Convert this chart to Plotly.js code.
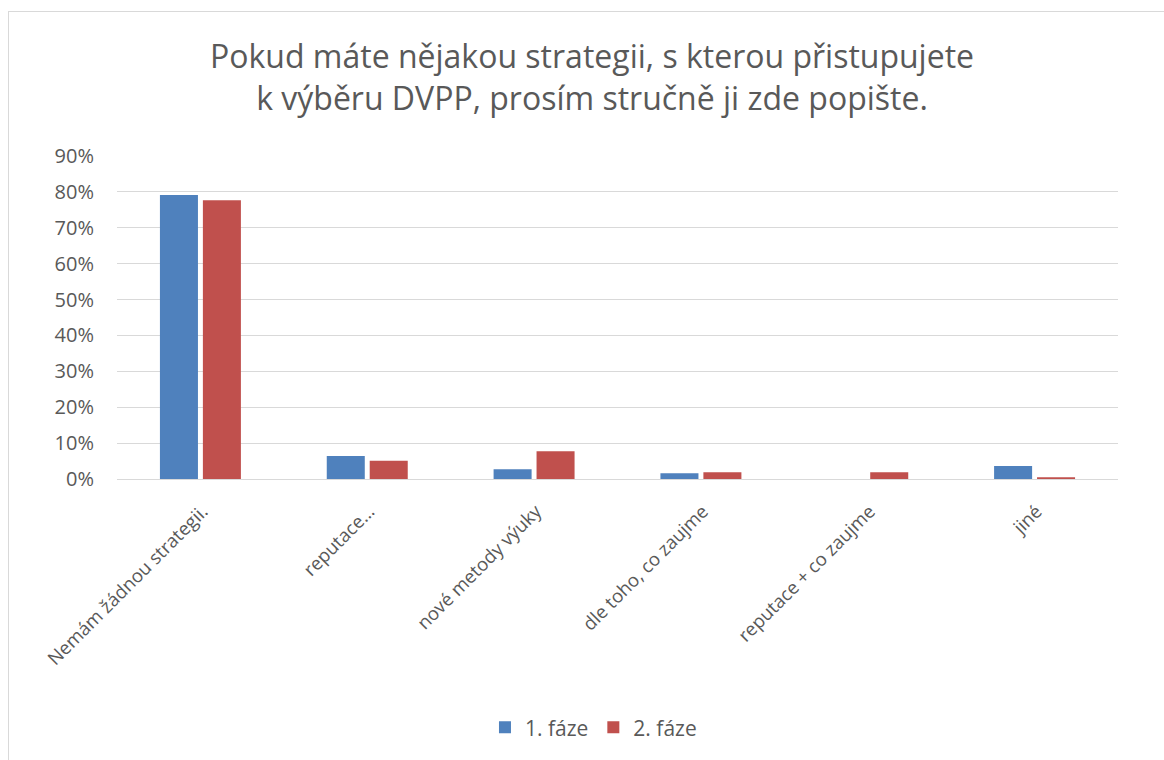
<!DOCTYPE html>
<html>
<head>
<meta charset="utf-8">
<script src="https://cdn.plot.ly/plotly-3.0.1.min.js"></script>
<style>
  html, body { margin: 0; padding: 0; background: #fff; }
  #chart { width: 1164px; height: 760px; position: absolute; left: 0; top: 0; }
  #frame { position: absolute; left: 8px; top: 11px; width: 1170px; height: 770px; border: 1px solid #d9d9d9; pointer-events: none; }
</style>
</head>
<body>
<div id="chart"></div>
<div id="frame"></div>
<script>
const categories = [
  "Nemám žádnou strategii.",
  "reputace…",
  "nové metody výuky",
  "dle toho, co zaujme",
  "reputace + co zaujme",
  "jiné"
];
const seriesNames = ["1. fáze", "2. fáze"];
const phase1 = [0.791, 0.064, 0.027, 0.016, 0.0, 0.036];
const phase2 = [0.777, 0.051, 0.077, 0.019, 0.019, 0.005];
const yTickVals = [0, 0.1, 0.2, 0.3, 0.4, 0.5, 0.6, 0.7, 0.8, 0.9];
const yTickText = ["0%", "10%", "20%", "30%", "40%", "50%", "60%", "70%", "80%", "90%"];
const titleText = "Pokud máte nějakou strategii, s kterou přistupujete<br>k výběru DVPP, prosím stručně ji zde popište.";

const font = "Open Sans, Noto Sans, sans-serif";
const textColor = "#595959";

const traces = [
  { type: "bar", name: seriesNames[0], x: categories, y: phase1, marker: { color: "#4F81BD" }, hoverinfo: "x+y" },
  { type: "bar", name: seriesNames[1], x: categories, y: phase2, marker: { color: "#C0504D" }, hoverinfo: "x+y" }
];

const layout = {
  width: 1164, height: 760,
  paper_bgcolor: "#fff", plot_bgcolor: "#fff",
  margin: { l: 117, r: 46, t: 156, b: 281, pad: 0 },
  font: { family: font, color: textColor },
  title: {
    text: titleText,
    font: { family: font, size: 32, color: textColor },
    x: 0.5086, xanchor: "center", xref: "container",
    y: 0.91, yanchor: "middle", yref: "container"
  },
  barmode: "group",
  bargap: 0.485,
  bargroupgap: 0.115,
  xaxis: {
    type: "category",
    tickangle: -45,
    tickfont: { family: font, size: 18.5, color: textColor },
    showgrid: false, showline: false, zeroline: false, ticks: "",
    ticklabelshift: 2, ticklabelstandoff: 17,
    automargin: false
  },
  yaxis: {
    range: [0, 0.9],
    tickvals: yTickVals, ticktext: yTickText,
    tickfont: { family: font, size: 20, color: textColor },
    showgrid: true, gridcolor: "#d9d9d9", gridwidth: 1,
    zeroline: true, zerolinecolor: "#d9d9d9", zerolinewidth: 1,
    showline: false, ticks: "", ticklabelstandoff: 22,
    automargin: false
  },
  showlegend: true,
  legend: {
    orientation: "h", x: 0.476, xanchor: "center", y: -0.77, yanchor: "middle",
    font: { family: font, size: 21, color: textColor },
    itemwidth: 30, tracegroupgap: 0
  }
};

Plotly.newPlot("chart", traces, layout, { displayModeBar: false, staticPlot: true });
</script>
</body>
</html>
